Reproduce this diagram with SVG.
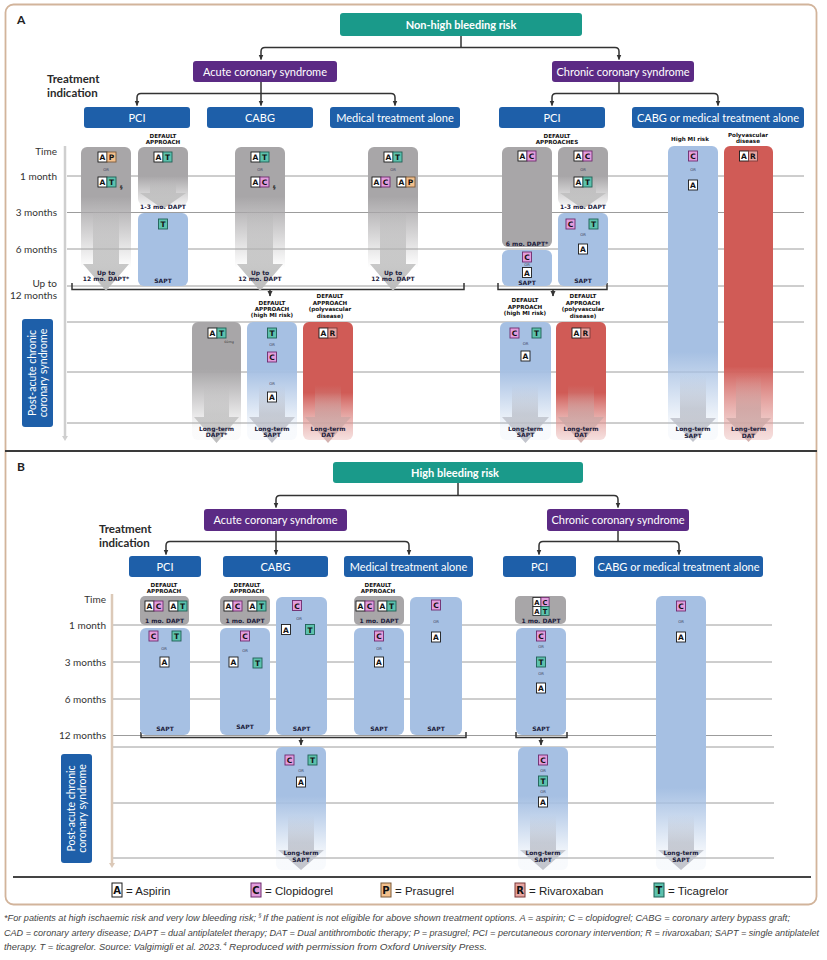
<svg xmlns="http://www.w3.org/2000/svg" xmlns:xlink="http://www.w3.org/1999/xlink" width="827" height="960" viewBox="0 0 827 960">
<style>
.hd{font-family:Lato,"Open Sans",sans-serif;font-size:11px;fill:#fff;text-anchor:middle}
.hdb{font-family:Lato,"Open Sans",sans-serif;font-size:11px;fill:#fff;text-anchor:middle;font-weight:700}
.ti{font-family:Lato,sans-serif;font-size:11.5px;font-weight:700;fill:#2a2a2a}
.tm{font-family:Lato,sans-serif;font-size:10px;fill:#333;text-anchor:end}
.lb{font-family:"DejaVu Sans",sans-serif;font-size:5.6px;font-weight:700;fill:#111;text-anchor:middle}
.ct{font-family:"DejaVu Sans",sans-serif;font-size:6px;font-weight:700;fill:#1c1c3c;text-anchor:middle}
.or{font-family:"DejaVu Sans",sans-serif;font-size:3.8px;fill:#3a3a5a;text-anchor:middle}
.cl{font-family:"DejaVu Sans",sans-serif;font-size:7.5px;font-weight:700;text-anchor:middle;fill:#111}
.pa{font-family:Lato,sans-serif;font-size:10.5px;fill:#fff;text-anchor:middle}
.grid{stroke:#9c9c9c;stroke-width:1}
.con{fill:none;stroke:#333;stroke-width:1.5}
.teal{fill:#1a9a8a}
.purp{fill:#5b2a84}
.blu{fill:#1e5fa9}
.gr{fill:#a8a6a8}
.bl{fill:#a6c0e3}
.lg{font-family:"Liberation Sans",sans-serif;font-size:11.5px;fill:#222}
.lgl{font-family:"DejaVu Sans",sans-serif;font-size:10px;font-weight:700;text-anchor:middle;fill:#111}
.cap{font-family:"Liberation Sans",sans-serif;font-size:9px;font-style:italic;fill:#444}
.sup{font-family:"Liberation Sans",sans-serif;font-size:5.5px;font-style:italic;fill:#444}
</style>
<defs>
<marker id="ah" markerWidth="6" markerHeight="6" refX="5" refY="3" orient="auto" markerUnits="userSpaceOnUse"><path d="M0,0.5 L5.5,3 L0,5.5z" fill="#333"/></marker>
<linearGradient id="fGray" x1="0" y1="0" x2="0" y2="1"><stop offset="0" stop-color="#a8a6a8"/><stop offset="0.35" stop-color="#a8a6a8"/><stop offset="0.85" stop-color="#a8a6a8" stop-opacity="0"/></linearGradient>
<linearGradient id="fGrayS" x1="0" y1="0" x2="0" y2="1"><stop offset="0" stop-color="#a8a6a8"/><stop offset="0.5" stop-color="#a8a6a8"/><stop offset="1" stop-color="#a8a6a8" stop-opacity="0.15"/></linearGradient>
<linearGradient id="fBlueL" x1="0" y1="0" x2="0" y2="1"><stop offset="0" stop-color="#a6c0e3"/><stop offset="0.7" stop-color="#a6c0e3"/><stop offset="0.95" stop-color="#a6c0e3" stop-opacity="0.08"/></linearGradient>
<linearGradient id="fRedL" x1="0" y1="0" x2="0" y2="1"><stop offset="0" stop-color="#d05b56"/><stop offset="0.75" stop-color="#d05b56"/><stop offset="1" stop-color="#e8b0ad" stop-opacity="0.4"/></linearGradient>
<linearGradient id="fBlueP" x1="0" y1="0" x2="0" y2="1"><stop offset="0" stop-color="#a6c0e3"/><stop offset="0.4" stop-color="#a6c0e3"/><stop offset="0.9" stop-color="#a6c0e3" stop-opacity="0.08"/></linearGradient>
<linearGradient id="fGrayP" x1="0" y1="0" x2="0" y2="1"><stop offset="0" stop-color="#a8a6a8"/><stop offset="0.4" stop-color="#a8a6a8"/><stop offset="0.9" stop-color="#a8a6a8" stop-opacity="0.05"/></linearGradient>
<linearGradient id="fRedP" x1="0" y1="0" x2="0" y2="1"><stop offset="0" stop-color="#d05b56"/><stop offset="0.6" stop-color="#d05b56"/><stop offset="1" stop-color="#e8b0ad" stop-opacity="0.4"/></linearGradient>
<linearGradient id="aGray" x1="0" y1="0" x2="0" y2="1"><stop offset="0" stop-color="#b5b5b5" stop-opacity="0"/><stop offset="0.5" stop-color="#b5b5b5" stop-opacity="0.6"/><stop offset="1" stop-color="#bdbdbd"/></linearGradient>
<linearGradient id="aBlue" x1="0" y1="0" x2="0" y2="1"><stop offset="0" stop-color="#b8bcc6" stop-opacity="0"/><stop offset="0.5" stop-color="#b8bcc6" stop-opacity="0.7"/><stop offset="1" stop-color="#c2c4cc"/></linearGradient>
<linearGradient id="aRed" x1="0" y1="0" x2="0" y2="1"><stop offset="0" stop-color="#c9a3a1" stop-opacity="0"/><stop offset="0.5" stop-color="#c9a3a1" stop-opacity="0.7"/><stop offset="1" stop-color="#d4b2b0"/></linearGradient>
<g id="cA"><rect width="9" height="10" fill="#fff" stroke="#1a1a1a" stroke-width="0.9"/><text x="4.5" y="8" class="cl">A</text></g>
<g id="cC"><rect width="9" height="10" fill="#e29ddc" stroke="#6d2a6d" stroke-width="0.9"/><text x="4.5" y="8" class="cl" fill="#4a154a">C</text></g>
<g id="cP"><rect width="9" height="10" fill="#f3c08c" stroke="#7a5a3a" stroke-width="0.9"/><text x="4.5" y="8" class="cl">P</text></g>
<g id="cR"><rect width="9" height="10" fill="#e8a5a0" stroke="#7a3a3a" stroke-width="0.9"/><text x="4.5" y="8" class="cl">R</text></g>
<g id="cT"><rect width="9" height="10" fill="#5dc2ad" stroke="#1f5f55" stroke-width="0.9"/><text x="4.5" y="8" class="cl">T</text></g>
</defs>

<rect x="0" y="0" width="827" height="960" fill="#fff"/>
<rect x="5.5" y="4.5" width="811" height="900" rx="8" fill="none" stroke="#d2b49b" stroke-width="1.8"/>
<line x1="5" y1="451" x2="817" y2="451" stroke="#3a3a3a" stroke-width="2"/>
<line x1="13" y1="877" x2="811" y2="877" stroke="#444" stroke-width="2"/>

<text x="17" y="24" font-family="Lato,sans-serif" font-size="12" font-weight="700" fill="#222">A</text>
<text x="17" y="471" font-family="Lato,sans-serif" font-size="12" font-weight="700" fill="#222">B</text>

<g id="grid">
<line class="grid" x1="67" y1="176" x2="804" y2="176"/>
<line class="grid" x1="67" y1="212.5" x2="804" y2="212.5"/>
<line class="grid" x1="67" y1="249" x2="804" y2="249"/>
<line class="grid" x1="67" y1="286" x2="804" y2="286"/>
<line class="grid" x1="67" y1="322" x2="804" y2="322"/>
<line class="grid" x1="67" y1="372" x2="804" y2="372"/>
<line class="grid" x1="67" y1="423" x2="804" y2="423"/>
<line x1="65" y1="146" x2="65" y2="437" stroke="#cfcfcf" stroke-width="2.5"/>
<polygon points="62,436 68,436 65,441" fill="#cfcfcf"/>
<line class="grid" x1="113" y1="625" x2="772" y2="625"/>
<line class="grid" x1="113" y1="662" x2="772" y2="662"/>
<line class="grid" x1="113" y1="699" x2="772" y2="699"/>
<line class="grid" x1="113" y1="735.5" x2="772" y2="735.5"/>
<line class="grid" x1="113" y1="747" x2="774" y2="747"/>
<line class="grid" x1="113" y1="803" x2="774" y2="803"/>
<line class="grid" x1="113" y1="858" x2="774" y2="858"/>
<line x1="112" y1="594" x2="112" y2="864" stroke="#dcc9b8" stroke-width="2.5"/>
<polygon points="109,863 115,863 112,868" fill="#dcc9b8"/>
</g>

<g id="time-labels">
<text class="tm" x="57" y="155">Time</text>
<text class="tm" x="57" y="180">1 month</text>
<text class="tm" x="57" y="216">3 months</text>
<text class="tm" x="57" y="253">6 months</text>
<text class="tm" x="57" y="287">Up to</text>
<text class="tm" x="57" y="299">12 months</text>
<text class="tm" x="106" y="603">Time</text>
<text class="tm" x="106" y="629">1 month</text>
<text class="tm" x="106" y="666">3 months</text>
<text class="tm" x="106" y="703">6 months</text>
<text class="tm" x="106" y="739">12 months</text>
<text class="ti" x="47" y="83">Treatment</text>
<text class="ti" x="47" y="97">indication</text>
<text class="ti" x="99" y="533">Treatment</text>
<text class="ti" x="99" y="547">indication</text>
</g>

<g id="connectors">
<path class="con" d="M461,36 V47.5"/>
<path class="con" marker-end="url(#ah)" d="M461,47.5 H265 Q261,47.5 261,51.5 V59.5"/>
<path class="con" marker-end="url(#ah)" d="M461,47.5 H615 Q619,47.5 619,51.5 V59.5"/>
<path class="con" d="M261,82 V93.5"/>
<path class="con" marker-end="url(#ah)" d="M261,93.5 H141 Q137,93.5 137,97.5 V105.5"/>
<path class="con" marker-end="url(#ah)" d="M261,93.5 V105.5"/>
<path class="con" marker-end="url(#ah)" d="M261,93.5 H391 Q395,93.5 395,97.5 V105.5"/>
<path class="con" d="M619,82 V93.5"/>
<path class="con" marker-end="url(#ah)" d="M619,93.5 H556 Q552,93.5 552,97.5 V105.5"/>
<path class="con" marker-end="url(#ah)" d="M619,93.5 H714 Q718,93.5 718,97.5 V105.5"/>
<path class="con" d="M458,483 V495.5"/>
<path class="con" marker-end="url(#ah)" d="M458,495.5 H280 Q276,495.5 276,499.5 V507.5"/>
<path class="con" marker-end="url(#ah)" d="M458,495.5 H614 Q618,495.5 618,499.5 V507.5"/>
<path class="con" d="M276,531 V541.5"/>
<path class="con" marker-end="url(#ah)" d="M276,541.5 H170 Q166,541.5 166,545.5 V554.5"/>
<path class="con" marker-end="url(#ah)" d="M276,541.5 V554.5"/>
<path class="con" marker-end="url(#ah)" d="M276,541.5 H405 Q409,541.5 409,545.5 V554.5"/>
<path class="con" d="M618,531 V541.5"/>
<path class="con" marker-end="url(#ah)" d="M618,541.5 H543 Q539,541.5 539,545.5 V554.5"/>
<path class="con" marker-end="url(#ah)" d="M618,541.5 H675 Q679,541.5 679,545.5 V554.5"/>
<path class="con" d="M72,283 V289.5 H464 V283"/>
<path class="con" marker-end="url(#ah)" d="M270,289.5 V296"/>
<path class="con" d="M498,283 V289.5 H607 V283"/>
<path class="con" marker-end="url(#ah)" d="M553,289.5 V296"/>
<path class="con" d="M141,732 V737.5 H466 V732"/>
<path class="con" marker-end="url(#ah)" d="M301,737.5 V745"/>
<path class="con" d="M516,732 V737.5 H567 V732"/>
<path class="con" marker-end="url(#ah)" d="M541,737.5 V745"/>
</g>

<g id="a-nonhigh"><rect x="340" y="13" width="242" height="23" rx="3" class="teal"/><text class="hdb" x="461" y="28.5">Non-high bleeding risk</text></g>
<g id="a-acs"><rect x="193" y="61" width="144" height="21" rx="3" class="purp"/><text class="hd" x="265" y="75.5">Acute coronary syndrome</text></g>
<g id="a-ccs"><rect x="552" y="61" width="142" height="21" rx="3" class="purp"/><text class="hd" x="623" y="75.5">Chronic coronary syndrome</text></g>
<g id="a-acs-pci"><rect x="84" y="107" width="106" height="21" rx="3" class="blu"/><text class="hd" x="137" y="121.5">PCI</text></g>
<g id="a-acs-cabg"><rect x="207" y="107" width="106" height="21" rx="3" class="blu"/><text class="hd" x="260" y="121.5">CABG</text></g>
<g id="a-acs-med"><rect x="330" y="107" width="130" height="21" rx="3" class="blu"/><text class="hd" x="395" y="121.5">Medical treatment alone</text></g>
<g id="a-ccs-pci"><rect x="499" y="107" width="106" height="21" rx="3" class="blu"/><text class="hd" x="552" y="121.5">PCI</text></g>
<g id="a-ccs-cabg"><rect x="632" y="107" width="172" height="21" rx="3" class="blu"/><text class="hd" x="718" y="121.5">CABG or medical treatment alone</text></g>

<g id="a-col1">
<rect x="81" y="147" width="50" height="142" rx="6" fill="url(#fGray)"/>
<polygon points="93,200 119,200 119,264 129,264 106,291 83,264 93,264" fill="url(#aGray)"/>
<use href="#cA" x="98" y="152"/><use href="#cP" x="107" y="152"/>
<text class="or" x="106" y="170.5">OR</text>
<use href="#cA" x="98" y="177"/><use href="#cT" x="107" y="177"/>
<text x="120" y="189" font-family="DejaVu Sans" font-size="5" font-weight="700" fill="#222">§</text>
<text class="ct" x="106" y="274.5">Up to</text><text class="ct" x="106" y="281">12 mo. DAPT*</text>
</g>
<g id="a-col2">
<text class="lb" x="163" y="137.5">DEFAULT</text><text class="lb" x="163" y="143.5">APPROACH</text>
<rect x="138" y="147" width="50" height="58" rx="6" fill="url(#fGrayS)"/>
<polygon points="150,178 176,178 176,193 186,193 163,209 140,193 150,193" fill="url(#aGray)"/>
<use href="#cA" x="154" y="152"/><use href="#cT" x="163" y="152"/>
<text class="ct" x="163" y="208.5">1-3 mo. DAPT</text>
<rect x="138" y="213" width="50" height="73" rx="6" class="bl"/>
<use href="#cT" x="158.5" y="219"/>
<text class="ct" x="163" y="283">SAPT</text>
</g>
<g id="a-col3">
<rect x="235" y="147" width="50" height="142" rx="6" fill="url(#fGray)"/>
<polygon points="247,200 273,200 273,264 283,264 260,291 237,264 247,264" fill="url(#aGray)"/>
<use href="#cA" x="251" y="152"/><use href="#cT" x="260" y="152"/>
<text class="or" x="260" y="170.5">OR</text>
<use href="#cA" x="251" y="177"/><use href="#cC" x="260" y="177"/>
<text x="273" y="189" font-family="DejaVu Sans" font-size="5" font-weight="700" fill="#222">§</text>
<text class="ct" x="260" y="274.5">Up to</text><text class="ct" x="260" y="281">12 mo. DAPT</text>
</g>
<g id="a-col4">
<rect x="368" y="147" width="50" height="142" rx="6" fill="url(#fGray)"/>
<polygon points="380,200 406,200 406,264 416,264 393,291 370,264 380,264" fill="url(#aGray)"/>
<use href="#cA" x="384" y="152"/><use href="#cT" x="393" y="152"/>
<text class="or" x="393" y="170.5">OR</text>
<use href="#cA" x="372" y="177"/><use href="#cC" x="381" y="177"/>
<use href="#cA" x="397" y="177"/><use href="#cP" x="406" y="177"/>
<text class="ct" x="393" y="274.5">Up to</text><text class="ct" x="393" y="281">12 mo. DAPT</text>
</g>
<g id="a-col5">
<text class="lb" x="557" y="137.5">DEFAULT</text><text class="lb" x="557" y="143.5">APPROACHES</text>
<rect x="502" y="147" width="50" height="100" rx="6" class="gr"/>
<use href="#cA" x="518" y="151"/><use href="#cC" x="527" y="151"/>
<text class="ct" x="527" y="245.5">6 mo. DAPT*</text>
<rect x="502" y="250" width="50" height="36" rx="6" class="bl"/>
<use href="#cC" x="522.5" y="252"/>
<text class="or" x="527" y="266">OR</text>
<use href="#cA" x="522.5" y="267.5"/>
<text class="ct" x="527" y="284.5">SAPT</text>
</g>
<g id="a-col6">
<rect x="558" y="147" width="50" height="58" rx="6" fill="url(#fGrayS)"/>
<polygon points="570,178 596,178 596,193 606,193 583,209 560,193 570,193" fill="url(#aGray)"/>
<use href="#cA" x="574" y="151"/><use href="#cC" x="583" y="151"/>
<text class="or" x="583" y="170.5">OR</text>
<use href="#cA" x="574" y="177"/><use href="#cT" x="583" y="177"/>
<text class="ct" x="583" y="208.5">1-3 mo. DAPT</text>
<rect x="558" y="213" width="50" height="73" rx="6" class="bl"/>
<use href="#cC" x="566" y="219"/><use href="#cT" x="589" y="219"/>
<text class="or" x="583" y="236">OR</text>
<use href="#cA" x="578.5" y="244"/>
<text class="ct" x="583" y="283">SAPT</text>
</g>
<g id="a-col7">
<text class="lb" x="690" y="140.5">High MI risk</text>
<rect x="668" y="146" width="50" height="294" rx="6" fill="url(#fBlueL)"/>
<polygon points="680,375 706,375 706,418 716,418 693,442 670,418 680,418" fill="url(#aBlue)"/>
<use href="#cC" x="688.5" y="151"/>
<text class="or" x="693" y="170.5">OR</text>
<use href="#cA" x="688.5" y="180"/>
<text class="ct" x="693" y="431">Long-term</text><text class="ct" x="693" y="437.5">SAPT</text>
</g>
<g id="a-col8">
<text class="lb" x="748" y="136.5">Polyvascular</text><text class="lb" x="748" y="142.5">disease</text>
<rect x="724" y="146" width="49" height="294" rx="6" fill="url(#fRedL)"/>
<polygon points="736,375 761,375 761,418 771,418 748.5,442 726,418 736,418" fill="url(#aRed)"/>
<use href="#cA" x="739.5" y="151"/><use href="#cR" x="748.5" y="151"/>
<text class="ct" x="748.5" y="431">Long-term</text><text class="ct" x="748.5" y="437.5">DAT</text>
</g>

<g id="a-postacute"><rect x="22" y="319" width="31" height="108" rx="3" class="blu"/>
<text class="pa" transform="translate(35.5,373) rotate(-90)">Post-acute chronic</text>
<text class="pa" transform="translate(47,373) rotate(-90)">coronary syndrome</text></g>
<g id="a-post1">
<rect x="192" y="322" width="49" height="118" rx="6" fill="url(#fGrayP)"/>
<polygon points="204,385 229,385 229,417 239,417 216.5,443 194,417 204,417" fill="url(#aGray)"/>
<use href="#cA" x="208" y="328"/><use href="#cT" x="217" y="328"/>
<text x="229" y="342.5" font-family="DejaVu Sans" font-size="3.3" fill="#333" text-anchor="middle">60mg</text>
<text class="ct" x="216.5" y="430.5">Long-term</text><text class="ct" x="216.5" y="437">DAPT*</text>
</g>
<g id="a-post2">
<text class="lb" x="272" y="304.5">DEFAULT</text><text class="lb" x="272" y="310.5">APPROACH</text><text class="lb" x="272" y="317">(high MI risk)</text>
<rect x="247" y="322" width="50" height="118" rx="6" fill="url(#fBlueP)"/>
<polygon points="259,385 285,385 285,417 295,417 272,443 249,417 259,417" fill="url(#aBlue)"/>
<use href="#cT" x="267.5" y="328"/>
<text class="or" x="272" y="346">OR</text>
<use href="#cC" x="267.5" y="352"/>
<text class="or" x="272" y="385">OR</text>
<use href="#cA" x="267.5" y="392"/>
<text class="ct" x="272" y="430.5">Long-term</text><text class="ct" x="272" y="437">SAPT</text>
</g>
<g id="a-post3">
<text class="lb" x="330" y="298">DEFAULT</text><text class="lb" x="330" y="304.5">APPROACH</text><text class="lb" x="330" y="311">(polyvascular</text><text class="lb" x="330" y="317.5">disease)</text>
<rect x="303" y="322" width="50" height="118" rx="6" fill="url(#fRedP)"/>
<polygon points="315,385 341,385 341,417 351,417 328,443 305,417 315,417" fill="url(#aRed)"/>
<use href="#cA" x="319" y="328"/><use href="#cR" x="328" y="328"/>
<text class="ct" x="328" y="430.5">Long-term</text><text class="ct" x="328" y="437">DAT</text>
</g>
<g id="a-post4">
<text class="lb" x="525" y="302">DEFAULT</text><text class="lb" x="525" y="308.5">APPROACH</text><text class="lb" x="525" y="315">(high MI risk)</text>
<rect x="500" y="322" width="51" height="118" rx="6" fill="url(#fBlueP)"/>
<polygon points="512,385 538,385 538,417 549,417 525.5,443 502,417 512,417" fill="url(#aBlue)"/>
<use href="#cC" x="510" y="328"/><use href="#cT" x="532" y="328"/>
<text class="or" x="525.5" y="345">OR</text>
<use href="#cA" x="521" y="351"/>
<text class="ct" x="525.5" y="430.5">Long-term</text><text class="ct" x="525.5" y="437">SAPT</text>
</g>
<g id="a-post5">
<text class="lb" x="583" y="298">DEFAULT</text><text class="lb" x="583" y="304.5">APPROACH</text><text class="lb" x="583" y="311">(polyvascular</text><text class="lb" x="583" y="317.5">disease)</text>
<rect x="556" y="322" width="50" height="118" rx="6" fill="url(#fRedP)"/>
<polygon points="568,385 594,385 594,417 604,417 581,443 558,417 568,417" fill="url(#aRed)"/>
<use href="#cA" x="572" y="328"/><use href="#cR" x="581" y="328"/>
<text class="ct" x="581" y="430.5">Long-term</text><text class="ct" x="581" y="437">DAT</text>
</g>

<g id="b-high"><rect x="333" y="462" width="250" height="21" rx="3" class="teal"/><text class="hdb" x="455" y="476.5">High bleeding risk</text></g>
<g id="b-acs"><rect x="204" y="509" width="143" height="22" rx="3" class="purp"/><text class="hd" x="275.5" y="524">Acute coronary syndrome</text></g>
<g id="b-ccs"><rect x="547" y="509" width="142" height="22" rx="3" class="purp"/><text class="hd" x="618" y="524">Chronic coronary syndrome</text></g>
<g id="b-acs-pci"><rect x="129" y="556" width="72" height="21" rx="3" class="blu"/><text class="hd" x="165" y="570.5">PCI</text></g>
<g id="b-acs-cabg"><rect x="223" y="556" width="105" height="21" rx="3" class="blu"/><text class="hd" x="275.5" y="570.5">CABG</text></g>
<g id="b-acs-med"><rect x="344" y="556" width="129" height="21" rx="3" class="blu"/><text class="hd" x="408.5" y="570.5">Medical treatment alone</text></g>
<g id="b-ccs-pci"><rect x="503" y="556" width="73" height="21" rx="3" class="blu"/><text class="hd" x="539.5" y="570.5">PCI</text></g>
<g id="b-ccs-cabg"><rect x="594" y="556" width="169" height="21" rx="3" class="blu"/><text class="hd" x="678.5" y="570.5">CABG or medical treatment alone</text></g>

<g id="b-col1">
<text class="lb" x="164" y="587">DEFAULT</text><text class="lb" x="164" y="593">APPROACH</text>
<rect x="140" y="596" width="49" height="29" rx="5" class="gr"/>
<use href="#cA" x="145" y="601"/><use href="#cC" x="154" y="601"/>
<use href="#cA" x="169" y="601"/><use href="#cT" x="178" y="601"/>
<text class="ct" x="164.5" y="623">1 mo. DAPT</text>
<rect x="140" y="628" width="50" height="107" rx="6" class="bl"/>
<use href="#cC" x="149" y="631"/><use href="#cT" x="172" y="631"/>
<text class="or" x="164" y="650">OR</text>
<use href="#cA" x="160" y="657"/>
<text class="ct" x="165" y="731">SAPT</text>
</g>
<g id="b-col2">
<text class="lb" x="247" y="587">DEFAULT</text><text class="lb" x="247" y="593">APPROACH</text>
<rect x="220" y="596" width="50" height="29" rx="5" class="gr"/>
<use href="#cA" x="224" y="601"/><use href="#cC" x="233" y="601"/>
<use href="#cA" x="248" y="601"/><use href="#cT" x="257" y="601"/>
<text class="ct" x="245" y="622.5">1 mo. DAPT</text>
<rect x="220" y="628" width="50" height="107" rx="6" class="bl"/>
<use href="#cC" x="240.5" y="631"/>
<text class="or" x="245" y="652">OR</text>
<use href="#cA" x="229" y="657"/><use href="#cT" x="253" y="658"/>
<text class="ct" x="245" y="729">SAPT</text>
</g>
<g id="b-col3">
<rect x="276" y="597" width="51" height="138" rx="6" class="bl"/>
<use href="#cC" x="292.5" y="600.5"/>
<text class="or" x="299" y="620">OR</text>
<use href="#cA" x="281.5" y="624.5"/><use href="#cT" x="305.5" y="624.5"/>
<text class="ct" x="301.5" y="731">SAPT</text>
</g>
<g id="b-col4">
<text class="lb" x="378" y="587">DEFAULT</text><text class="lb" x="378" y="593">APPROACH</text>
<rect x="354" y="596" width="50" height="29" rx="5" class="gr"/>
<use href="#cA" x="356" y="601"/><use href="#cC" x="365" y="601"/>
<use href="#cA" x="378" y="601"/><use href="#cT" x="387" y="601"/>
<text class="ct" x="379" y="622.5">1 mo. DAPT</text>
<rect x="354" y="628" width="50" height="107" rx="6" class="bl"/>
<use href="#cC" x="374.5" y="631"/>
<text class="or" x="379" y="650">OR</text>
<use href="#cA" x="374.5" y="657"/>
<text class="ct" x="379" y="731">SAPT</text>
</g>
<g id="b-col5">
<rect x="410" y="597" width="52" height="138" rx="6" class="bl"/>
<use href="#cC" x="431.5" y="600"/>
<text class="or" x="436" y="622.5">OR</text>
<use href="#cA" x="431.5" y="632"/>
<text class="ct" x="436" y="731">SAPT</text>
</g>
<g id="b-col6">
<rect x="515" y="596" width="51" height="28" rx="5" class="gr"/>
<g transform="translate(532.9,597.5) scale(0.9)"><use href="#cA"/><use href="#cC" x="9"/><use href="#cA" y="10"/><use href="#cT" x="9" y="10"/></g>
<text class="ct" x="541" y="623">1 mo. DAPT</text>
<rect x="516" y="628" width="50" height="107" rx="6" class="bl"/>
<use href="#cC" x="536.5" y="631"/>
<text class="or" x="541" y="648">OR</text>
<use href="#cT" x="536.5" y="657"/>
<text class="or" x="541" y="675">OR</text>
<use href="#cA" x="536.5" y="683"/>
<text class="ct" x="541" y="731">SAPT</text>
</g>
<g id="b-col7">
<rect x="656" y="596" width="50" height="274" rx="6" fill="url(#fBlueL)"/>
<polygon points="668,815 694,815 694,850 704,850 681,870 658,850 668,850" fill="url(#aBlue)"/>
<use href="#cC" x="676.5" y="601"/>
<text class="or" x="681" y="623">OR</text>
<use href="#cA" x="676.5" y="632"/>
<text class="ct" x="681" y="855">Long-term</text><text class="ct" x="681" y="862">SAPT</text>
</g>

<g id="b-postacute"><rect x="61" y="754" width="31" height="109" rx="3" class="blu"/>
<text class="pa" transform="translate(74.5,808.5) rotate(-90)">Post-acute chronic</text>
<text class="pa" transform="translate(86,808.5) rotate(-90)">coronary syndrome</text></g>
<g id="b-post1">
<rect x="276" y="747" width="50" height="123" rx="6" fill="url(#fBlueP)"/>
<polygon points="288,815 314,815 314,850 324,850 301,870 278,850 288,850" fill="url(#aBlue)"/>
<use href="#cC" x="285" y="755"/><use href="#cT" x="308" y="755"/>
<text class="or" x="301" y="772">OR</text>
<use href="#cA" x="296.5" y="777"/>
<text class="ct" x="301" y="855">Long-term</text><text class="ct" x="301" y="862">SAPT</text>
</g>
<g id="b-post2">
<rect x="518" y="747" width="50" height="123" rx="6" fill="url(#fBlueP)"/>
<polygon points="530,815 556,815 556,850 566,850 543,870 520,850 530,850" fill="url(#aBlue)"/>
<use href="#cC" x="538.5" y="755"/>
<text class="or" x="543" y="772">OR</text>
<use href="#cT" x="538.5" y="776"/>
<text class="or" x="543" y="792.5">OR</text>
<use href="#cA" x="538.5" y="797"/>
<text class="ct" x="543" y="855">Long-term</text><text class="ct" x="543" y="862">SAPT</text>
</g>

<g id="legend">
<rect x="112" y="883" width="10" height="14" fill="#fff" stroke="#1a1a1a" stroke-width="1"/><text class="lgl" x="117" y="894">A</text><text class="lg" x="126" y="894.5">= Aspirin</text>
<rect x="251" y="883" width="10" height="14" fill="#e29ddc" stroke="#6d2a6d" stroke-width="1"/><text class="lgl" x="256" y="894">C</text><text class="lg" x="265" y="894.5">= Clopidogrel</text>
<rect x="381" y="883" width="10" height="14" fill="#f3c08c" stroke="#7a5a3a" stroke-width="1"/><text class="lgl" x="386" y="894">P</text><text class="lg" x="395" y="894.5">= Prasugrel</text>
<rect x="515" y="883" width="10" height="14" fill="#e8a5a0" stroke="#7a3a3a" stroke-width="1"/><text class="lgl" x="520" y="894">R</text><text class="lg" x="529" y="894.5">= Rivaroxaban</text>
<rect x="654" y="883" width="10" height="14" fill="#5dc2ad" stroke="#1f5f55" stroke-width="1"/><text class="lgl" x="659" y="894">T</text><text class="lg" x="668" y="894.5">= Ticagrelor</text>
</g>

<g id="caption">
<text class="cap" x="4" y="921" textLength="252" lengthAdjust="spacingAndGlyphs">*For patients at high ischaemic risk and very low bleeding risk;</text>
<text class="sup" x="258.5" y="917">§</text>
<text class="cap" x="263" y="921" textLength="527" lengthAdjust="spacingAndGlyphs">If the patient is not eligible for above shown treatment options. A = aspirin; C = clopidogrel; CABG = coronary artery bypass graft;</text>
<text class="cap" x="4" y="936" textLength="815" lengthAdjust="spacingAndGlyphs">CAD = coronary artery disease; DAPT = dual antiplatelet therapy; DAT = Dual antithrombotic therapy; P = prasugrel; PCI = percutaneous coronary intervention; R = rivaroxaban; SAPT = single antiplatelet</text>
<text class="cap" x="4" y="950" textLength="218" lengthAdjust="spacingAndGlyphs">therapy. T = ticagrelor. Source: Valgimigli et al. 2023.</text>
<text class="sup" x="223.5" y="946">4</text>
<text class="cap" x="229" y="950" textLength="258" lengthAdjust="spacingAndGlyphs">Reproduced with permission from Oxford University Press.</text>
</g>
</svg>
